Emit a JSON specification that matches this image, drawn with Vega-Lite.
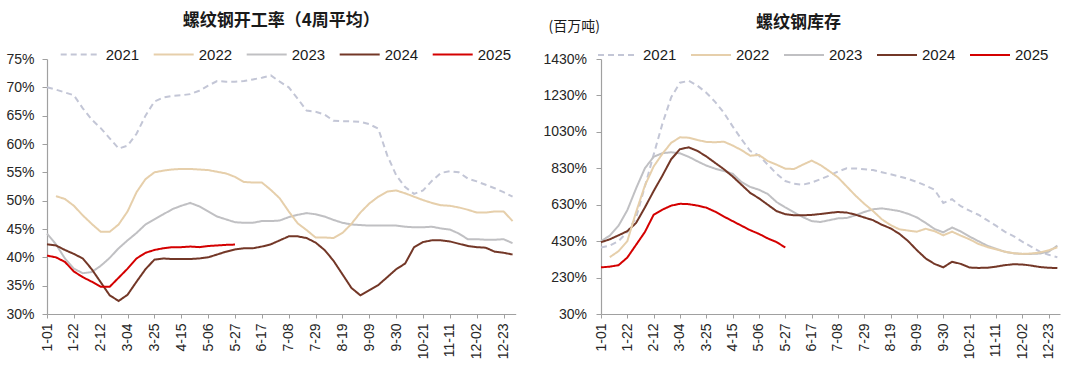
{
  "$schema": "https://vega.github.io/schema/vega-lite/v6.json",
  "background": "white",
  "padding": {"left": 5, "top": 11, "right": 5, "bottom": 0},
  "spacing": 25,
  "config": {
    "view": {"stroke": null},
    "font": "Liberation Sans",
    "title": {"font": "Noto Sans CJK SC", "fontSize": 17, "fontWeight": "bold", "color": "#1a1a1a"},
    "axis": {"labelFont": "Liberation Sans", "labelFontSize": 14, "labelColor": "#262626", "domainColor": "#a0a0a0", "tickColor": "#a0a0a0", "grid": false, "tickSize": 5, "domainWidth": 1.2},
    "line": {"strokeWidth": 2}
  },
  "datasets": {
    "rate": [
      {"w":0,"2021":70.0,"2022":null,"2023":44.2,"2024":42.3,"2025":40.3},
      {"w":1,"2021":69.6,"2022":50.8,"2023":42.3,"2024":42.1,"2025":40.0},
      {"w":2,"2021":69.1,"2022":50.3,"2023":39.8,"2024":41.3,"2025":39.2},
      {"w":3,"2021":68.6,"2022":49.1,"2023":38.0,"2024":40.6,"2025":37.5},
      {"w":4,"2021":66.3,"2022":47.4,"2023":37.2,"2024":39.8,"2025":36.5},
      {"w":5,"2021":64.3,"2022":45.9,"2023":37.4,"2024":37.9,"2025":35.7},
      {"w":6,"2021":62.8,"2022":44.5,"2023":38.5,"2024":35.6,"2025":34.8},
      {"w":7,"2021":61.0,"2022":44.5,"2023":39.9,"2024":33.3,"2025":34.8},
      {"w":8,"2021":59.2,"2022":45.8,"2023":41.6,"2024":32.3,"2025":36.4},
      {"w":9,"2021":59.7,"2022":48.1,"2023":43.0,"2024":33.4,"2025":38.0},
      {"w":10,"2021":61.8,"2022":51.5,"2023":44.3,"2024":35.7,"2025":39.8},
      {"w":11,"2021":65.0,"2022":53.8,"2023":45.8,"2024":37.9,"2025":40.8},
      {"w":12,"2021":67.5,"2022":55.0,"2023":46.7,"2024":39.6,"2025":41.3},
      {"w":13,"2021":68.2,"2022":55.3,"2023":47.6,"2024":39.8,"2025":41.6},
      {"w":14,"2021":68.5,"2022":55.5,"2023":48.5,"2024":39.7,"2025":41.8},
      {"w":15,"2021":68.6,"2022":55.6,"2023":49.1,"2024":39.7,"2025":41.8},
      {"w":16,"2021":68.8,"2022":55.6,"2023":49.6,"2024":39.7,"2025":41.9},
      {"w":17,"2021":69.4,"2022":55.5,"2023":49.0,"2024":39.8,"2025":41.8},
      {"w":18,"2021":70.3,"2022":55.4,"2023":48.1,"2024":40.0,"2025":42.0},
      {"w":19,"2021":71.1,"2022":55.1,"2023":47.2,"2024":40.5,"2025":42.1},
      {"w":20,"2021":71.0,"2022":54.8,"2023":46.7,"2024":41.0,"2025":42.2},
      {"w":21,"2021":71.0,"2022":54.2,"2023":46.2,"2024":41.4,"2025":42.25},
      {"w":22,"2021":71.1,"2022":53.3,"2023":46.1,"2024":41.6,"2025":null},
      {"w":23,"2021":71.4,"2022":53.2,"2023":46.1,"2024":41.6,"2025":null},
      {"w":24,"2021":71.7,"2022":53.2,"2023":46.4,"2024":41.9,"2025":null},
      {"w":25,"2021":72.1,"2022":51.9,"2023":46.4,"2024":42.3,"2025":null},
      {"w":26,"2021":71.0,"2022":50.4,"2023":46.5,"2024":43.0,"2025":null},
      {"w":27,"2021":70.0,"2022":48.1,"2023":47.1,"2024":43.7,"2025":null},
      {"w":28,"2021":68.0,"2022":46.0,"2023":47.5,"2024":43.7,"2025":null},
      {"w":29,"2021":65.9,"2022":44.8,"2023":47.8,"2024":43.4,"2025":null},
      {"w":30,"2021":65.7,"2022":43.5,"2023":47.6,"2024":42.6,"2025":null},
      {"w":31,"2021":65.2,"2022":43.5,"2023":47.2,"2024":41.3,"2025":null},
      {"w":32,"2021":64.1,"2022":43.4,"2023":46.6,"2024":39.4,"2025":null},
      {"w":33,"2021":64.0,"2022":44.3,"2023":46.1,"2024":37.0,"2025":null},
      {"w":34,"2021":64.0,"2022":45.9,"2023":45.8,"2024":34.6,"2025":null},
      {"w":35,"2021":63.9,"2022":47.9,"2023":45.7,"2024":33.3,"2025":null},
      {"w":36,"2021":63.5,"2022":49.5,"2023":45.6,"2024":34.2,"2025":null},
      {"w":37,"2021":62.7,"2022":50.7,"2023":45.6,"2024":35.1,"2025":null},
      {"w":38,"2021":58.0,"2022":51.6,"2023":45.6,"2024":36.5,"2025":null},
      {"w":39,"2021":54.5,"2022":51.8,"2023":45.6,"2024":37.9,"2025":null},
      {"w":40,"2021":52.4,"2022":51.3,"2023":45.4,"2024":38.9,"2025":null},
      {"w":41,"2021":51.2,"2022":50.7,"2023":45.3,"2024":41.8,"2025":null},
      {"w":42,"2021":51.8,"2022":50.1,"2023":45.3,"2024":42.7,"2025":null},
      {"w":43,"2021":53.5,"2022":49.6,"2023":45.4,"2024":43.0,"2025":null},
      {"w":44,"2021":54.9,"2022":49.2,"2023":45.1,"2024":43.0,"2025":null},
      {"w":45,"2021":55.2,"2022":49.1,"2023":44.9,"2024":42.8,"2025":null},
      {"w":46,"2021":55.0,"2022":48.8,"2023":44.2,"2024":42.4,"2025":null},
      {"w":47,"2021":53.9,"2022":48.4,"2023":43.2,"2024":42.0,"2025":null},
      {"w":48,"2021":53.4,"2022":47.9,"2023":43.2,"2024":41.8,"2025":null},
      {"w":49,"2021":52.8,"2022":47.9,"2023":43.1,"2024":41.7,"2025":null},
      {"w":50,"2021":52.2,"2022":48.1,"2023":43.1,"2024":41.0,"2025":null},
      {"w":51,"2021":51.5,"2022":48.1,"2023":43.2,"2024":40.8,"2025":null},
      {"w":52,"2021":50.7,"2022":46.4,"2023":42.5,"2024":40.5,"2025":null}
    ],
    "stock": [
      {"w":0,"2021":395,"2022":null,"2023":430,"2024":424,"2025":286},
      {"w":1,"2021":405,"2022":342,"2023":460,"2024":440,"2025":290},
      {"w":2,"2021":430,"2022":375,"2023":515,"2024":462,"2025":298},
      {"w":3,"2021":480,"2022":430,"2023":600,"2024":485,"2025":340},
      {"w":4,"2021":560,"2022":590,"2023":720,"2024":530,"2025":410},
      {"w":5,"2021":730,"2022":735,"2023":830,"2024":615,"2025":480},
      {"w":6,"2021":905,"2022":840,"2023":893,"2024":705,"2025":575},
      {"w":7,"2021":1075,"2022":910,"2023":913,"2024":790,"2025":603},
      {"w":8,"2021":1220,"2022":970,"2023":918,"2024":880,"2025":625},
      {"w":9,"2021":1300,"2022":1000,"2023":912,"2024":935,"2025":635},
      {"w":10,"2021":1310,"2022":998,"2023":893,"2024":945,"2025":633},
      {"w":11,"2021":1283,"2022":985,"2023":868,"2024":925,"2025":625},
      {"w":12,"2021":1245,"2022":975,"2023":845,"2024":895,"2025":614},
      {"w":13,"2021":1195,"2022":973,"2023":828,"2024":860,"2025":592},
      {"w":14,"2021":1135,"2022":976,"2023":815,"2024":825,"2025":565},
      {"w":15,"2021":1060,"2022":955,"2023":800,"2024":785,"2025":540},
      {"w":16,"2021":990,"2022":930,"2023":755,"2024":740,"2025":515},
      {"w":17,"2021":925,"2022":899,"2023":728,"2024":695,"2025":490},
      {"w":18,"2021":900,"2022":903,"2023":712,"2024":665,"2025":470},
      {"w":19,"2021":850,"2022":870,"2023":689,"2024":630,"2025":445},
      {"w":20,"2021":800,"2022":850,"2023":645,"2024":595,"2025":425},
      {"w":21,"2021":760,"2022":828,"2023":615,"2024":578,"2025":395},
      {"w":22,"2021":745,"2022":826,"2023":588,"2024":572,"2025":null},
      {"w":23,"2021":740,"2022":850,"2023":562,"2024":572,"2025":null},
      {"w":24,"2021":752,"2022":872,"2023":540,"2024":574,"2025":null},
      {"w":25,"2021":770,"2022":848,"2023":535,"2024":579,"2025":null},
      {"w":26,"2021":790,"2022":815,"2023":545,"2024":585,"2025":null},
      {"w":27,"2021":812,"2022":780,"2023":555,"2024":590,"2025":null},
      {"w":28,"2021":830,"2022":730,"2023":557,"2024":587,"2025":null},
      {"w":29,"2021":829,"2022":680,"2023":572,"2024":575,"2025":null},
      {"w":30,"2021":825,"2022":635,"2023":590,"2024":560,"2025":null},
      {"w":31,"2021":820,"2022":595,"2023":605,"2024":545,"2025":null},
      {"w":32,"2021":808,"2022":550,"2023":610,"2024":520,"2025":null},
      {"w":33,"2021":797,"2022":518,"2023":603,"2024":500,"2025":null},
      {"w":34,"2021":785,"2022":495,"2023":595,"2024":470,"2025":null},
      {"w":35,"2021":772,"2022":488,"2023":580,"2024":430,"2025":null},
      {"w":36,"2021":755,"2022":482,"2023":560,"2024":380,"2025":null},
      {"w":37,"2021":735,"2022":498,"2023":530,"2024":335,"2025":null},
      {"w":38,"2021":712,"2022":485,"2023":497,"2024":305,"2025":null},
      {"w":39,"2021":640,"2022":462,"2023":478,"2024":286,"2025":null},
      {"w":40,"2021":660,"2022":482,"2023":505,"2024":317,"2025":null},
      {"w":41,"2021":622,"2022":460,"2023":483,"2024":305,"2025":null},
      {"w":42,"2021":597,"2022":440,"2023":455,"2024":285,"2025":null},
      {"w":43,"2021":575,"2022":415,"2023":430,"2024":283,"2025":null},
      {"w":44,"2021":545,"2022":398,"2023":405,"2024":284,"2025":null},
      {"w":45,"2021":515,"2022":385,"2023":388,"2024":290,"2025":null},
      {"w":46,"2021":482,"2022":372,"2023":372,"2024":298,"2025":null},
      {"w":47,"2021":458,"2022":364,"2023":363,"2024":303,"2025":null},
      {"w":48,"2021":427,"2022":360,"2023":360,"2024":302,"2025":null},
      {"w":49,"2021":400,"2022":362,"2023":360,"2024":296,"2025":null},
      {"w":50,"2021":372,"2022":368,"2023":362,"2024":288,"2025":null},
      {"w":51,"2021":355,"2022":380,"2023":372,"2024":284,"2025":null},
      {"w":52,"2021":342,"2022":396,"2023":405,"2024":282,"2025":null}
    ]
  },
  "hconcat": [
    {
      "title": {"text": "螺纹钢开工率（4周平均）", "offset": 3.7},
      "width": 468.7,
      "height": 255,
      "data": {"name": "rate"},
      "transform": [
        {"fold": ["2021", "2022", "2023", "2024", "2025"], "as": ["year", "value"]},
        {"filter": "datum.value != null"}
      ],
      "mark": {"type": "line", "strokeWidth": 2},
      "encoding": {
        "x": {"field": "w", "type": "quantitative",
          "scale": {"domain": [0, 52.35], "nice": false, "zero": false},
          "axis": {"title": null, "values": [0,3,6,9,12,15,18,21,24,27,30,33,36,39,42,45,48,51],
            "labelExpr": "['1-01','1-22','2-12','3-04','3-25','4-15','5-06','5-27','6-17','7-08','7-29','8-19','9-09','9-30','10-21','11-11','12-02','12-23'][round(datum.value/3)]",
            "labelAngle": -90, "labelFlush": false, "labelPadding": 5, "tickSize": 4, "labelOverlap": false}},
        "y": {"field": "value", "type": "quantitative",
          "scale": {"domain": [30, 75], "nice": false, "zero": false},
          "axis": {"title": null, "values": [30,35,40,45,50,55,60,65,70,75], "labelExpr": "datum.value + '%'", "labelPadding": 8}},
        "color": {"field": "year", "type": "nominal",
          "scale": {"domain": ["2021","2022","2023","2024","2025"], "range": ["#c3c6d6","#e6cfab","#c0c0c3","#733727","#d40000"]},
          "legend": {"orient": "none", "legendX": 12.7, "legendY": -25.5, "direction": "horizontal", "title": null, "symbolType": "stroke", "symbolSize": 1600, "symbolStrokeWidth": 2.2, "labelFontSize": 15, "labelFont": "Liberation Sans", "labelColor": "#1a1a1a", "labelOffset": 4, "columnPadding": 10, "padding": 0}},
        "strokeDash": {"field": "year", "type": "nominal",
          "scale": {"domain": ["2021","2022","2023","2024","2025"], "range": [[6,4],[1,0],[1,0],[1,0],[1,0]]},
          "legend": {"orient": "none", "legendX": 12.7, "legendY": -25.5, "direction": "horizontal", "title": null, "symbolType": "stroke", "symbolSize": 1600, "symbolStrokeWidth": 2.2, "labelFontSize": 15, "labelFont": "Liberation Sans", "labelColor": "#1a1a1a", "labelOffset": 4, "columnPadding": 10, "padding": 0}}
      }
    },
    {
      "title": {"text": "螺纹钢库存", "offset": -12.7, "dx": -32},
      "width": 459,
      "height": 255,
      "data": {"name": "stock"},
      "transform": [
        {"fold": ["2021", "2022", "2023", "2024", "2025"], "as": ["year", "value"]},
        {"filter": "datum.value != null"}
      ],
      "mark": {"type": "line", "strokeWidth": 2},
      "encoding": {
        "x": {"field": "w", "type": "quantitative",
          "scale": {"domain": [0, 52.3], "nice": false, "zero": false},
          "axis": {"title": null, "values": [0,3,6,9,12,15,18,21,24,27,30,33,36,39,42,45,48,51],
            "labelExpr": "['1-01','1-22','2-12','3-04','3-25','4-15','5-06','5-27','6-17','7-08','7-29','8-19','9-09','9-30','10-21','11-11','12-02','12-23'][round(datum.value/3)]",
            "labelAngle": -90, "labelFlush": false, "labelPadding": 5, "tickSize": 4, "labelOverlap": false}},
        "y": {"field": "value", "type": "quantitative",
          "scale": {"domain": [30, 1430], "nice": false, "zero": false},
          "axis": {"title": "(百万吨)", "titleAngle": 0, "titleAlign": "left", "titleBaseline": "middle", "titleX": -53, "titleY": -33, "titleFont": "Noto Sans CJK SC", "titleFontSize": 14, "titleFontWeight": "normal", "titleColor": "#1a1a1a",
            "values": [30,230,430,630,830,1030,1230,1430], "labelExpr": "datum.value + '%'", "labelPadding": 9.5}},
        "color": {"field": "year", "type": "nominal",
          "scale": {"domain": ["2021","2022","2023","2024","2025"], "range": ["#c3c6d6","#e6cfab","#c0c0c3","#733727","#d40000"]},
          "legend": {"orient": "none", "legendX": -4, "legendY": -25, "direction": "horizontal", "title": null, "symbolType": "stroke", "symbolSize": 1600, "symbolStrokeWidth": 2.2, "labelFontSize": 15, "labelFont": "Liberation Sans", "labelColor": "#1a1a1a", "labelOffset": 4, "columnPadding": 10, "padding": 0}},
        "strokeDash": {"field": "year", "type": "nominal",
          "scale": {"domain": ["2021","2022","2023","2024","2025"], "range": [[6,4],[1,0],[1,0],[1,0],[1,0]]},
          "legend": {"orient": "none", "legendX": -4, "legendY": -25, "direction": "horizontal", "title": null, "symbolType": "stroke", "symbolSize": 1600, "symbolStrokeWidth": 2.2, "labelFontSize": 15, "labelFont": "Liberation Sans", "labelColor": "#1a1a1a", "labelOffset": 4, "columnPadding": 10, "padding": 0}}
      }
    }
  ],
  "resolve": {"scale": {"color": "independent", "strokeDash": "independent"}}
}
